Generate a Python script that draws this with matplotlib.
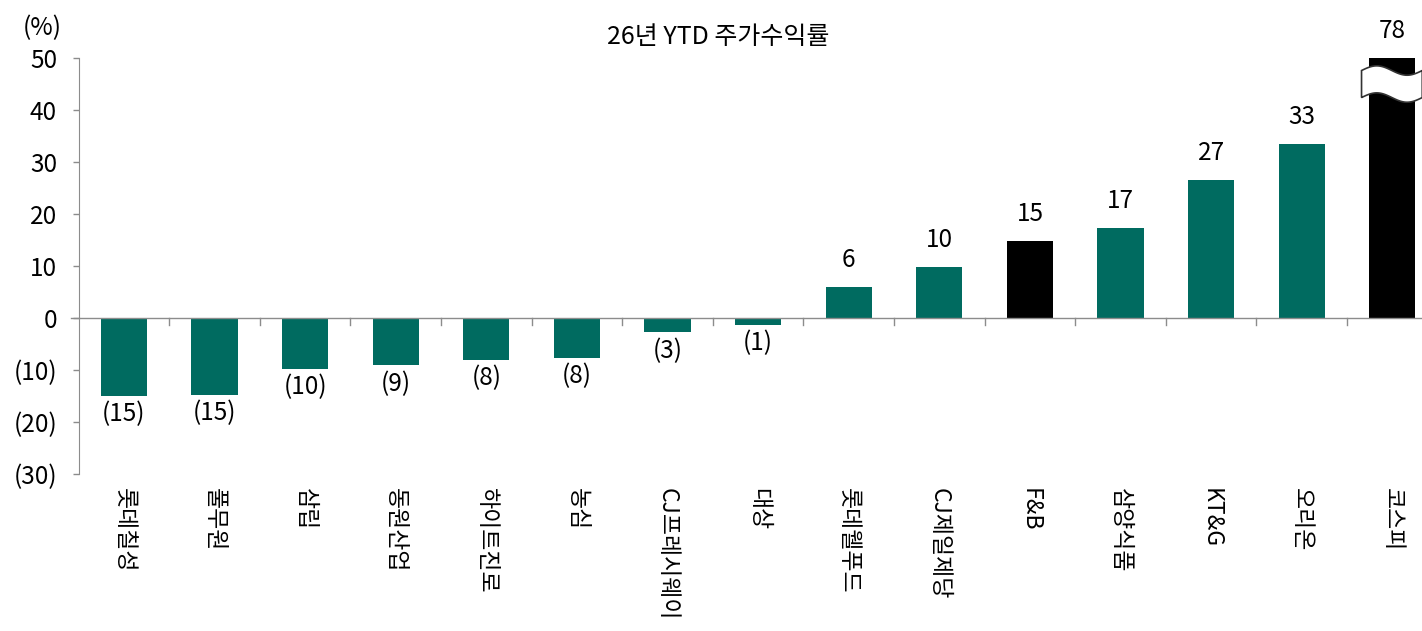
import matplotlib.pyplot as plt
import numpy as np
from matplotlib.patches import Polygon

plt.rcParams['font.family'] = ['Noto Sans CJK KR', 'DejaVu Sans']

names = ['롯데칠성', '풀무원', '삼립', '동원산업', '하이트진로', '농심', 'CJ프레시웨이', '대상',
         '롯데웰푸드', 'CJ제일제당', 'F&B', '삼양식품', 'KT&G', '오리온', '코스피']
returns = [-15.0, -14.8, -9.8, -9.1, -8.0, -7.7, -2.8, -1.3, 5.9, 9.8, 14.8, 17.3, 26.5, 33.4, 78.0]
shown = ['(15)', '(15)', '(10)', '(9)', '(8)', '(8)', '(3)', '(1)', '6', '10', '15', '17', '27', '33', '78']
black_ones = ['F&B', '코스피']

yticks = [-30, -20, -10, 0, 10, 20, 30, 40, 50]
ytick_txt = ['(30)', '(20)', '(10)', '0', '10', '20', '30', '40', '50']
ymin, ymax = -30, 50

green = '#006B60'
grey = '#8c8c8c'

fig = plt.figure(figsize=(14.22, 6.31), dpi=100)
# the category area runs a little past the right edge of the picture
ax = fig.add_axes([0.0553, 0.249, 0.9557, 0.659])

x = np.arange(len(names))
colors = ['black' if n in black_ones else green for n in names]
ax.bar(x, returns, width=0.51, color=colors, zorder=2)

ax.set_xlim(-0.5, len(names) - 0.5)
ax.set_ylim(ymin, ymax)
ax.set_yticks(yticks)
ax.set_yticklabels(ytick_txt, fontsize=17.5)
ax.tick_params(axis='y', length=4.5, width=1, color=grey, pad=11)

ax.set_xticks([])
for s in ['top', 'right', 'bottom']:
    ax.spines[s].set_visible(False)
ax.spines['left'].set_color(grey)

# zero line with little ticks between categories
ax.axhline(0, color=grey, lw=1, zorder=3)
ax.plot([-0.58, -0.5], [0, 0], color=grey, lw=1, clip_on=False)
for b in np.arange(0.5, len(names) - 0.5, 1.0):
    ax.plot([b, b], [0, -1.3], color=grey, lw=1, zorder=3)

# category labels, written top to bottom
for xi, n in zip(x, names):
    ax.annotate(n, (xi, ymin), xytext=(0, -10), textcoords='offset points',
                rotation=-90, ha='center', va='top', fontsize=16.5,
                annotation_clip=False)

# value labels
for xi, v, t in zip(x, returns, shown):
    if v >= 0:
        ax.annotate(t, (xi, min(v, ymax)), xytext=(0, 10), textcoords='offset points',
                    ha='center', va='bottom', fontsize=17.5, annotation_clip=False)
    else:
        ax.annotate(t, (xi, v), xytext=(0, -4), textcoords='offset points',
                    ha='center', va='top', fontsize=17.5)

# break marker on the clipped bar
idx = int(np.argmax(returns))
xs = np.linspace(idx - 0.34, idx + 0.33, 60)
w = 0.9 * np.sin((xs - xs[0]) / (xs[-1] - xs[0]) * 2 * np.pi)
top = 47.6 + w
bot = 42.4 + w
pts = np.vstack([np.column_stack([xs, top]), np.column_stack([xs[::-1], bot[::-1]])])
ax.add_patch(Polygon(pts, closed=True, facecolor='white', edgecolor='#333333',
                     lw=1.2, zorder=4, clip_on=False))

fig.text(0.016, 0.955, '(%)', fontsize=17.5, ha='left', va='center')
fig.text(0.505, 0.941, '26년 YTD 주가수익률', fontsize=18, ha='center', va='center')

fig.savefig('out.png', dpi=100)
